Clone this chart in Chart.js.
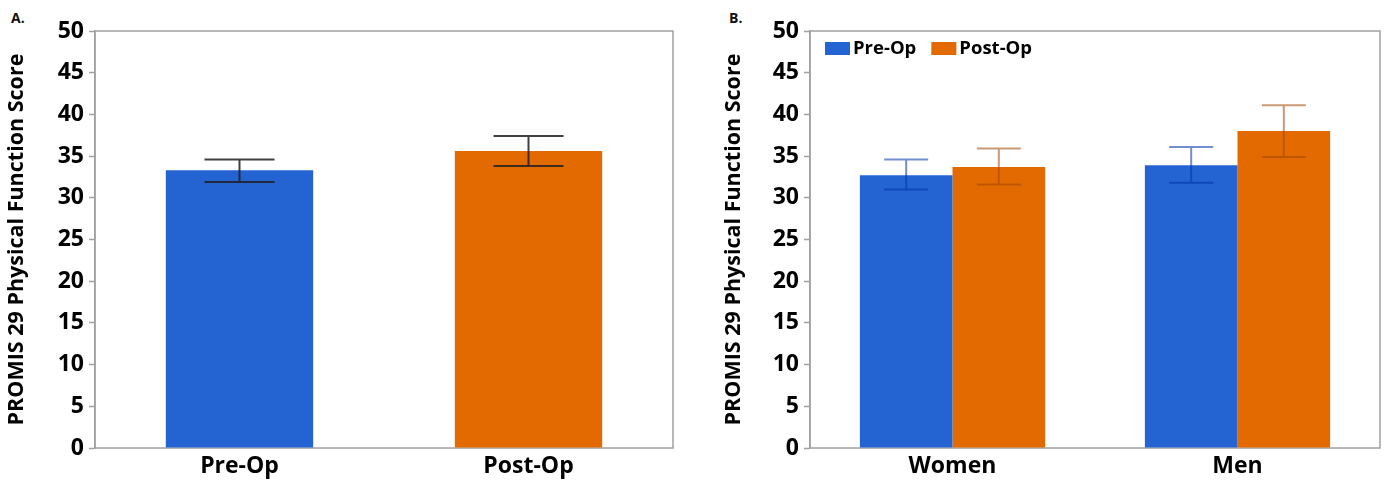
<!DOCTYPE html>
<html>
<head>
<meta charset="utf-8">
<script src="https://cdn.jsdelivr.net/npm/chart.js@4.4.0/dist/chart.umd.min.js"></script>
<style>
  html, body { margin: 0; padding: 0; background: #fff; }
  .panel { position: absolute; top: 0; width: 695px; height: 481px; }
  .tag { position: absolute; top: 8px; font: bold 14px "Open Sans", sans-serif; color: #111; }
</style>
</head>
<body>
<div class="tag" style="left:11px">A.</div>
<div class="tag" style="left:729px">B.</div>
<div class="panel" style="left:0"><canvas id="chartA"></canvas></div>
<div class="panel" style="left:695px"><canvas id="chartB"></canvas></div>
<script>
// panel A: overall
const overallLabels = ['Pre-Op', 'Post-Op'];
const overallMeans = [33.3, 35.6];
const overallLow = [31.9, 33.8];
const overallHigh = [34.6, 37.4];

// panel B: by sex
const sexLabels = ['Women', 'Men'];
const preOpMeans = [32.7, 33.9];
const preOpLow = [31.0, 31.8];
const preOpHigh = [34.6, 36.1];
const postOpMeans = [33.7, 38.0];
const postOpLow = [31.6, 34.9];
const postOpHigh = [35.9, 41.1];

const yTicks = [0, 5, 10, 15, 20, 25, 30, 35, 40, 45, 50];

const BLUE = 'rgb(36,100,210)';
const ORANGE = 'rgb(227,106,0)';
const FONT = '"Open Sans", sans-serif';

// draws whiskers from dataset.errLow / dataset.errHigh
const errorBars = {
  id: 'errorBars',
  afterDatasetsDraw(chart) {
    const ctx = chart.ctx;
    const yScale = chart.scales.y;
    chart.data.datasets.forEach((ds, i) => {
      const meta = chart.getDatasetMeta(i);
      meta.data.forEach((bar, j) => {
        const yLo = yScale.getPixelForValue(ds.errLow[j]);
        const yHi = yScale.getPixelForValue(ds.errHigh[j]);
        const half = ds.capWidth / 2;
        ctx.save();
        ctx.strokeStyle = ds.errColor;
        ctx.lineWidth = 2;
        ctx.beginPath();
        ctx.moveTo(bar.x, yLo); ctx.lineTo(bar.x, yHi);
        ctx.moveTo(bar.x - half, yHi); ctx.lineTo(bar.x + half, yHi);
        ctx.moveTo(bar.x - half, yLo); ctx.lineTo(bar.x + half, yLo);
        ctx.stroke();
        ctx.restore();
      });
    });
  }
};

// grey frame around the plot area
const frame = {
  id: 'frame',
  beforeDatasetsDraw(chart) {
    const { ctx, chartArea: a } = chart;
    ctx.save();
    ctx.strokeStyle = '#a0a0a0';
    ctx.lineWidth = 1.5;
    ctx.strokeRect(a.left, a.top, a.right - a.left, a.bottom - a.top);
    ctx.restore();
  }
};

// legend in a single row at the top left, inside the plot
const insideLegend = {
  id: 'insideLegend',
  afterDraw(chart) {
    const { ctx, chartArea: a } = chart;
    let x = a.left + 15;
    const y = a.top + 11;
    ctx.save();
    ctx.font = 'bold 18.5px ' + FONT;
    ctx.textBaseline = 'middle';
    chart.data.datasets.forEach(ds => {
      ctx.fillStyle = ds.backgroundColor;
      ctx.fillRect(x, y, 25, 13);
      ctx.fillStyle = '#000';
      ctx.fillText(ds.label, x + 28, y + 7);
      x += 28 + ctx.measureText(ds.label).width + 15;
    });
    ctx.restore();
  }
};

function makeScales(yWidth) {
  return {
    x: {
      grid: { display: false, drawTicks: false },
      border: { display: false },
      ticks: { color: '#000', padding: 5, font: { family: FONT, size: 23, weight: 'bold' } },
      afterFit: s => { s.height = 33; }
    },
    y: {
      min: 0, max: 50,
      afterBuildTicks: s => { s.ticks = yTicks.map(v => ({ value: v })); },
      grid: { drawOnChartArea: false, tickLength: 6, color: '#a0a0a0', tickWidth: 1.5 },
      border: { color: '#a0a0a0', width: 1.5 },
      ticks: { color: '#000', padding: 5, font: { family: FONT, size: 23, weight: 'bold' } },
      title: {
        display: true, text: 'PROMIS 29 Physical Function Score', color: '#000',
        font: { family: FONT, size: 21.5, weight: 'bold' }, padding: { top: 4, bottom: 2 }
      },
      afterFit: s => { s.width = yWidth; }
    }
  };
}

new Chart(document.getElementById('chartA'), {
  type: 'bar',
  data: {
    labels: overallLabels,
    datasets: [{
      data: overallMeans,
      backgroundColor: [BLUE, ORANGE],
      barPercentage: 0.51,
      categoryPercentage: 1,
      errLow: overallLow,
      errHigh: overallHigh,
      errColor: 'rgba(30,30,30,0.85)',
      capWidth: 70
    }]
  },
  options: {
    responsive: true,
    maintainAspectRatio: false,
    animation: false,
    layout: { padding: { left: 0, right: 22, top: 31, bottom: 0 } },
    plugins: { legend: { display: false }, tooltip: { enabled: false } },
    scales: makeScales(95)
  },
  plugins: [frame, errorBars]
});

new Chart(document.getElementById('chartB'), {
  type: 'bar',
  data: {
    labels: sexLabels,
    datasets: [{
      label: 'Pre-Op',
      data: preOpMeans,
      backgroundColor: BLUE,
      errLow: preOpLow,
      errHigh: preOpHigh,
      errColor: 'rgba(0,50,170,0.55)',
      capWidth: 44
    }, {
      label: 'Post-Op',
      data: postOpMeans,
      backgroundColor: ORANGE,
      errLow: postOpLow,
      errHigh: postOpHigh,
      errColor: 'rgba(160,70,0,0.55)',
      capWidth: 44
    }]
  },
  options: {
    responsive: true,
    maintainAspectRatio: false,
    animation: false,
    datasets: { bar: { barPercentage: 1, categoryPercentage: 0.65 } },
    layout: { padding: { left: 22, right: 10, top: 31, bottom: 0 } },
    plugins: { legend: { display: false }, tooltip: { enabled: false } },
    scales: makeScales(93)
  },
  plugins: [frame, errorBars, insideLegend]
});
</script>
</body>
</html>
